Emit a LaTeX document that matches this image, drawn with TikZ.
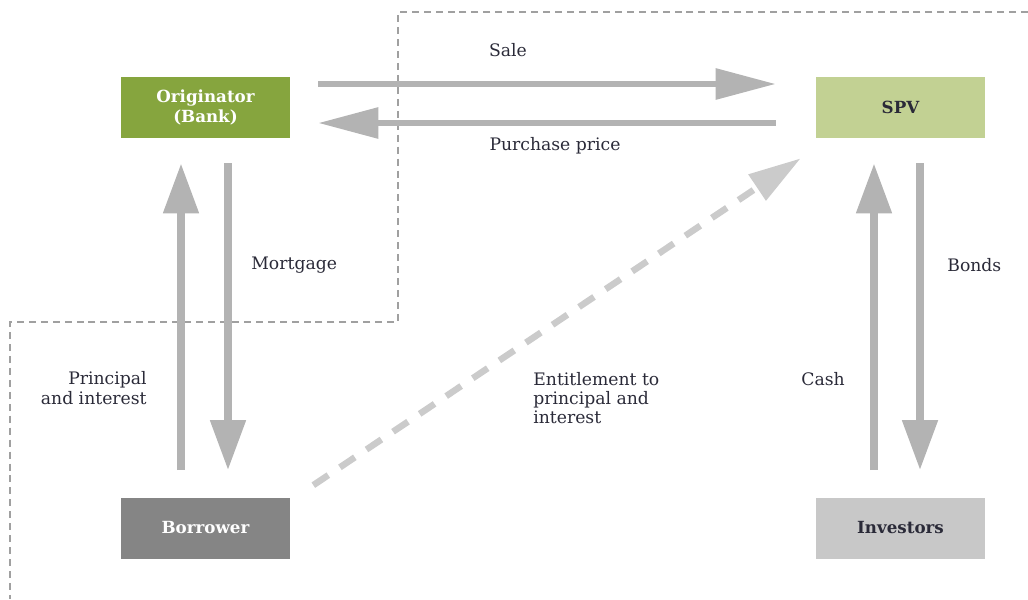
\documentclass[tikz,border=0pt]{standalone}
\usepackage{fontspec}
\setmainfont{DejaVu Serif}
\usetikzlibrary{arrows.meta,calc,positioning}

\definecolor{origgreen}{HTML}{86A53E}
\definecolor{spvgreen}{HTML}{C2D193}
\definecolor{borrgray}{HTML}{858585}
\definecolor{invgray}{HTML}{C8C8C8}
\definecolor{flowgray}{HTML}{B3B3B3}
\definecolor{dashgray}{HTML}{CBCBCB}
\definecolor{bordergray}{HTML}{A0A0A0}
\definecolor{textnavy}{HTML}{2A2A38}

\tikzset{
	party/.style={minimum width=3.38cm, minimum height=1.22cm, inner sep=0pt,
		align=center, font=\bfseries\fontsize{9.5}{11}\selectfont},
	hflow/.style={draw=flowgray, line width=0.12cm,
		-{Triangle[length=1.2cm,width=0.6cm]}},
	vflow/.style={draw=flowgray, line width=0.16cm,
		-{Triangle[length=1.0cm,width=0.68cm]}},
	claim/.style={draw=dashgray, line width=0.13cm, dash pattern=on 0.36cm off 0.28cm,
		-{Triangle[length=1.05cm,width=0.6cm]}},
	lbl/.style={font=\fontsize{9.8}{11}\selectfont, text=textnavy, inner sep=0pt},
}

\begin{document}
\begin{tikzpicture}[x=0.02cm, y=-0.02cm]
\useasboundingbox (0,0) rectangle (1028,599);

% Zweckgesellschaft (gestrichelte Grenze)
	\draw[bordergray, line width=0.6pt, dash pattern=on 4pt off 2.8pt]
		(1028,12) -- (398,12) -- (398,322) -- (10,322) -- (10,599);

% Parteien
	\node[party, fill=origgreen, text=white] (orig) at (205.5,107.5) {Originator\\(Bank)};
	\node[party, fill=spvgreen, text=textnavy] (spv) at (900.5,107.5) {SPV};
	\node[party, fill=borrgray, text=white] (borr) at (205.5,528) {Borrower};
	\node[party, fill=invgray, text=textnavy] (inv) at (900.5,528) {Investors};

% Fluesse oben
	\draw[hflow, shorten <=0.56cm, shorten >=0.8cm]
		($(orig.east)+(0,-23.5)$) -- ($(spv.west)+(0,-23.5)$);
	\draw[hflow, shorten <=0.8cm, shorten >=0.56cm]
		($(spv.west)+(0,15.5)$) -- ($(orig.east)+(0,15.5)$);

% Fluesse senkrecht
	\foreach \p/\q/\dx in {borr/orig/-24.5, inv/spv/-26.5}
		\draw[vflow, shorten <=0.54cm, shorten >=0.5cm]
			($(\p.north)+(\dx,0)$) -- ($(\q.south)+(\dx,0)$);
	\foreach \p/\q/\dx in {orig/borr/22.5, spv/inv/19.5}
		\draw[vflow, shorten <=0.5cm, shorten >=0.54cm]
			($(\p.south)+(\dx,0)$) -- ($(\q.north)+(\dx,0)$);

% Anspruch
	\draw[claim] ($(borr.north east)+(23,-12)$) -- ($(spv.south west)+(-15,20)$);

% Beschriftungen
	\node[lbl] (sale) at (508,50) {Sale};
	\node[lbl] (price) at (555,146) {Purchase price};
	\node[lbl, anchor=west] (mortgage) at (251,265) {Mortgage};
	\node[lbl, anchor=west] (bonds) at (947,265) {Bonds};
	\node[lbl, anchor=east, align=right] (repay) at (147,388) {Principal\\and interest};
	\node[lbl, anchor=west, align=left] (entitle) at (533,398) {Entitlement to\\principal and\\interest};
	\node[lbl, anchor=west] (cash) at (801,379) {Cash};
\end{tikzpicture}
\end{document}
